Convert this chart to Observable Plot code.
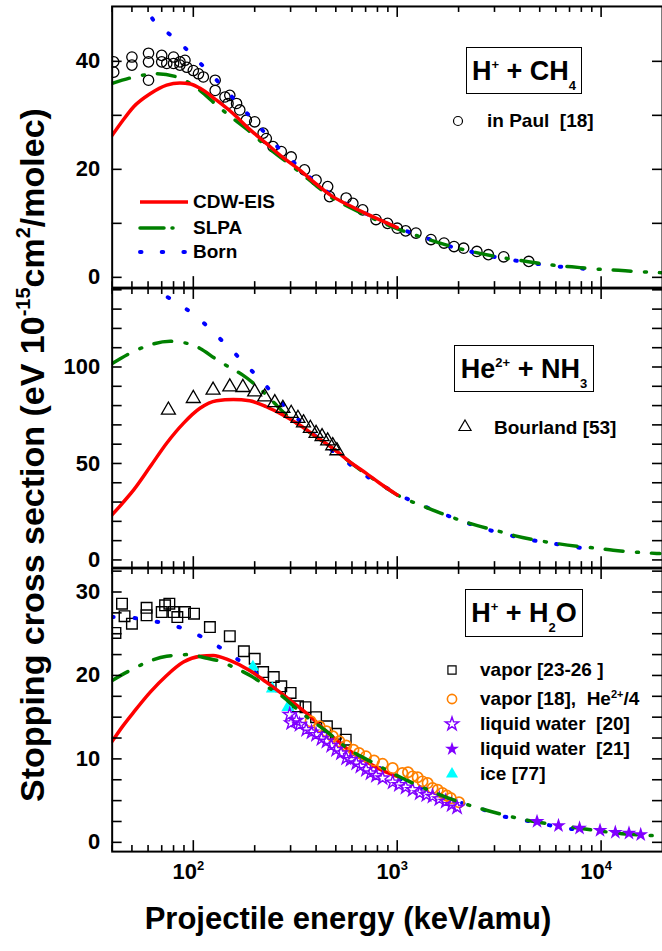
<!DOCTYPE html>
<html><head><meta charset="utf-8">
<script src="https://cdn.jsdelivr.net/npm/d3@7"></script>
<script src="https://cdn.jsdelivr.net/npm/@observablehq/plot@0.6"></script>
<style>
body{margin:0;background:#fff;}
#wrap{position:relative;width:662px;height:951px;overflow:hidden;font-family:"Liberation Sans",Arial,Helvetica,sans-serif;font-weight:bold;color:#000;}
.pan{position:absolute;left:0;}
.box{position:absolute;border:1.3px solid #000;box-sizing:border-box;display:flex;align-items:center;justify-content:center;font-size:27px;line-height:30px;white-space:nowrap;}
.box span{display:inline-block;}
.box sup{font-size:13px;line-height:0;vertical-align:11px;}
.box sub{font-size:13px;line-height:0;vertical-align:-10px;}
.lg{position:absolute;font-size:19px;line-height:20px;height:20px;white-space:pre;}
.lg sup{font-size:11px;line-height:0;vertical-align:7px;}
.mk{position:absolute;overflow:visible;}
</style></head><body><div id="wrap"></div>
<script>
// ---------------- DATA ----------------
// Panel 1: H+ + CH4   [energy keV/amu, stopping cross section]
const ch4CdwEis = [[40,26.3],[45,29.0],[51,31.6],[61.4,34.0],[74,35.6],[86,36.0],[97,35.8],[108,35.0],[130,32.8],[157,30.3],[189,27.4],[228,24.8],[275,22.2],[332,19.9],[400,17.3],[483,14.95],[583,13.3],[703,11.8],[850,10.4],[1000,9.2]];
const ch4Slpa = [[40,35.9],[50,37.0],[66,37.7],[83,37.1],[108,34.6],[130,31.9],[157,29.4],[189,27.0],[228,24.3],[275,21.9],[332,19.5],[400,17.0],[483,14.6],[583,13.0],[703,11.5],[850,10.1],[1018,8.9],[1300,7.5],[1700,6.1],[2300,4.8],[3000,3.9],[4400,2.9],[6000,2.2],[7180,1.95],[9000,1.6],[12170,1.3],[15500,1.05],[20000,0.85]];
const ch4Born = [[55,51.5],[63.8,47.6],[82.9,44.0],[103.9,40.3],[132.5,36.2],[163,32.5],[204,28.5],[260,24.1],[332,20.3],[400,17.5],[483,15.1],[583,13.3],[703,11.8],[900,9.9],[1122,8.5],[1432,7.1],[1828,5.7],[2334,4.7],[2979,3.8],[3800,3.1],[4852,2.5],[6180,2.0],[7890,1.67],[10000,1.3]];
const ch4Paul = [[40.7,39.9],[40.7,38.0],[50,40.8],[50,39.3],[60.3,41.5],[60.3,39.9],[60.3,36.5],[70,41.1],[70,39.9],[74.1,39.6],[80,40.8],[80,39.6],[86,39.9],[86,39.3],[91,40.2],[93,38.9],[100,38.3],[106,37.7],[112,37.1],[128,36.5],[128,34.6],[143,33.4],[148,32.2],[151,33.7],[163,32.2],[169,31.0],[182,29.1],[200,28.8],[220,26.7],[228,25.7],[246,24.2],[270,23.3],[302,22.3],[351,19.9],[400,18.0],[456,16.8],[466,14.95],[562,14.7],[606,13.7],[677,12.5],[787,10.7],[897,10.0],[1000,9.1],[1100,8.6],[1236,8.2],[1464,7.0],[1697,6.35],[1900,5.7],[2118,5.4],[2459,4.8],[2800,4.2],[3328,3.8],[4418,2.95]];

// Panel 2: He2+ + NH3
const nh3CdwEis = [[40,23.4],[45,29.5],[51,36.3],[61.5,48.4],[74,60.5],[89.4,70.8],[107.8,78.6],[130,82.5],[157,83.2],[189,82.5],[228,79.4],[275,75.1],[332,69.9],[400,63.9],[483,57.9],[583,51.0],[703,45.0],[818,39.9],[1000,33.7]];
const nh3Slpa = [[40,101.8],[55,109.6],[77,113.3],[91,112.5],[108,109.6],[128,104.4],[151,99.7],[175,95.8],[211,88.9],[246,82.0],[286,75.1],[358,67.3],[483,58.0],[606,49.5],[800,40.5],[1000,33.7],[1354,27.7],[1632,24.3],[2242,19.1],[3271,14.4],[3800,12.5],[4776,10.3],[7840,7.0],[9310,6.2],[11460,5.0],[15460,3.9],[19400,3.3]];
const nh3Born = [[50,150],[63.8,140.6],[82.3,133.6],[105,125.6],[133.5,115.2],[170,104.2],[214,93.2],[268,82.0],[340,71.1],[435,60.5],[555,51.5],[703,43.6],[910,36.7],[1166,30.8],[1464,26.4],[1900,21.7],[2420,17.7],[3052,14.5],[3870,11.9],[4960,9.6],[6300,7.9],[8000,6.2]];
const nh3Bourland = [[75.5,77.7],[100,83.7],[125,88.0],[151,89.7],[175,89.4],[200,87.1],[224,84.5],[251,81.5],[275,78.6],[302,76.0],[326,73.4],[347,71.1],[375,68.2],[400,65.6],[428,63.9],[456,61.7],[483,59.2],[506,56.6]];

// Panel 3: H+ + H2O
const h2oCdwEis = [[40,12.1],[45,13.9],[51,15.6],[61.5,18.0],[74,20.0],[89.4,21.6],[108,22.3],[125,22.4],[151,21.8],[189,20.6],[228,19.2],[286,17.4],[358,15.5],[450,13.3],[562,11.3],[703,9.7],[850,8.6],[1000,7.9]];
const h2oSlpa = [[40,19.4],[49,20.6],[57,21.4],[74,22.3],[94.5,22.5],[115,22.1],[135,21.7],[157,21.0],[196,19.8],[228,18.7],[270,17.6],[332,15.7],[450,13.3],[583,11.1],[740,9.7],[1100,7.5],[1480,6.1],[1930,5.0],[2600,4.0],[4240,2.7],[7840,1.7],[12660,1.04],[18220,0.8]];
const h2oBorn = [[40,27.0],[50.4,26.9],[64.3,26.5],[82.3,25.9],[104.6,24.9],[134,23.4],[170,21.7],[217,19.7],[278,17.4],[351,15.3],[456,13.1],[583,11.2],[750,9.5],[950,8.0],[1212,6.9],[1550,5.8],[1966,4.9],[2520,4.1],[3210,3.2],[4110,2.7],[5200,2.2],[6650,1.7],[8500,1.43]];
const h2oVapor2326 = [[41.5,25.1],[44.7,28.6],[46,27.1],[50,26.2],[59,28.1],[59,27.2],[70,27.6],[72.7,28.4],[76.3,28.6],[80,27.6],[83.5,27.0],[91,27.6],[100.8,27.4],[120.6,25.8],[151,24.7],[177,22.9],[200,22.0],[220,20.4],[248,19.8],[270,18.7],[300,17.9],[326,16.3],[355,16.2],[400,15.0],[452,13.9],[500,13.0],[559,12.3]];
const h2oVapor18 = [[376,14.5],[416,13.9],[450,13.3],[483,12.7],[520,12.1],[562,11.6],[610,11.1],[650,10.7],[703,10.3],[770,9.8],[848,9.4],[950,8.9],[1060,8.3],[1130,8.4],[1190,7.9],[1260,7.8],[1330,7.3],[1410,7.1],[1490,6.5],[1580,6.3],[1665,5.9],[1750,5.6],[1830,5.3],[2010,4.8]];
const h2oLiquid20 = [[297,15.3],[302,14.3],[320,14.6],[332,14.1],[358,13.5],[380,13.2],[400,12.9],[425,12.4],[450,12.1],[475,11.6],[502,11.1],[530,10.7],[562,10.1],[590,9.9],[630,9.5],[660,9.1],[703,8.7],[740,8.3],[787,8.0],[848,7.7],[950,7.2],[1020,6.9],[1100,6.6],[1190,6.3],[1290,5.9],[1390,5.7],[1490,5.5],[1610,5.2],[1730,4.9],[1850,4.5],[1966,4.2]];
const h2oLiquid21 = [[4850,2.5],[6180,2.0],[7840,1.7],[9880,1.43],[11740,1.2],[13700,1.1],[15640,0.92]];
const h2oIce = [[196,21.0],[244,18.4],[291,16.2]];

// Axis ticks
const xMajor = [100, 1000, 10000];
const xMinor = [40,50,60,70,80,90,200,300,400,500,600,700,800,900,2000,3000,4000,5000,6000,7000,8000,9000];
const p1Ticks = [0,10,20,30,40], p1Labels = [0,20,40];
const p2Ticks = [0,10,20,30,40,50,60,70,80,90,100,110,120,130,140], p2Labels = [0,50,100];
const p3Ticks = [0,2.5,5,7.5,10,12.5,15,17.5,20,22.5,25,27.5,30,32.5], p3Labels = [0,10,20,30];

// ---------------- STYLES ----------------
const RED = "#ff0000", GREEN = "#008000", BLUE = "#0000ff";
const lineRed = {stroke: RED, strokeWidth: 3.5, curve: "monotone-x", clip: true};
const lineGreen = {stroke: GREEN, strokeWidth: 3.5, strokeDasharray: "18,13.5,2,13", strokeLinecap: "round", curve: "monotone-x", clip: true};
const lineBlue = {stroke: BLUE, strokeWidth: 4, strokeDasharray: "1.5,21", strokeLinecap: "round", curve: "monotone-x", clip: true};
const XY = {x: d => d[0], y: d => d[1]};

const W = 664, ML = 112, MR = 0, FW = W - ML - MR;
function panel({innerH, yDomain, yTicks, yLabels, marks, xLabels = false}) {
  const mt = 10, mb = xLabels ? 50 : 10;
  const svg = Plot.plot({
    width: W, height: innerH + mt + mb,
    marginLeft: ML, marginRight: MR, marginTop: mt, marginBottom: mb,
    style: {background: "transparent", overflow: "visible", fontFamily: "'Liberation Sans', Arial, sans-serif"},
    x: {type: "log", domain: [40, 20000], axis: null},
    y: {domain: yDomain, axis: null},
    marks: [
      ...marks,
      Plot.frame({stroke: "#000", strokeWidth: 2}),
      Plot.tickY(yTicks, {y: d => d, insetRight: FW - 10, strokeWidth: 1.6}),
      Plot.tickY(yTicks, {y: d => d, insetLeft: FW - 10, strokeWidth: 1.6}),
      Plot.tickX(xMinor, {x: d => d, insetBottom: innerH - 6, strokeWidth: 1.6}),
      Plot.tickX(xMinor, {x: d => d, insetTop: innerH - 6, strokeWidth: 1.6}),
      Plot.tickX(xMajor, {x: d => d, insetBottom: innerH - 11, strokeWidth: 1.6}),
      Plot.tickX(xMajor, {x: d => d, insetTop: innerH - 11, strokeWidth: 1.6}),
      Plot.text(yLabels, {y: d => d, frameAnchor: "left", dx: -12, textAnchor: "end", text: d => String(d), fontSize: 22, fontWeight: "bold", fill: "#000"}),
      xLabels ? Plot.text(xMajor, {x: d => d, frameAnchor: "bottom", dy: 27, dx: -5, text: d => "10^" + Math.round(Math.log10(d)), fontSize: 22, fontWeight: "bold", fill: "#000"}) : null
    ]
  });
  svg.querySelectorAll("text").forEach(t => {
    const m = /^10\^(\d+)$/.exec(t.textContent);
    if (m) {
      t.textContent = "10";
      const ts = document.createElementNS("http://www.w3.org/2000/svg", "tspan");
      ts.setAttribute("dy", "-9"); ts.setAttribute("font-size", "13"); ts.textContent = m[1];
      t.appendChild(ts);
    }
  });
  return svg;
}

const wrap = document.getElementById("wrap");
function place(svg, top) { svg.classList.add("pan"); svg.style.position = "absolute"; svg.style.top = top + "px"; svg.style.left = "0px"; wrap.appendChild(svg); }

place(panel({innerH: 282, yDomain: [-1.9, 50.16], yTicks: p1Ticks, yLabels: p1Labels, marks: [
  Plot.dot(ch4Paul, {...XY, r: 5.2, stroke: "#000", strokeWidth: 1.3, fill: "none", clip: true}),
  Plot.line(ch4Born, {...XY, ...lineBlue}),
  Plot.line(ch4Slpa, {...XY, ...lineGreen}),
  Plot.line(ch4CdwEis, {...XY, ...lineRed})
]}), -4);

place(panel({innerH: 280, yDomain: [-3.98, 140.7], yTicks: p2Ticks, yLabels: p2Labels, marks: [
  Plot.line(nh3Born, {...XY, ...lineBlue}),
  Plot.line(nh3Slpa, {...XY, ...lineGreen}),
  Plot.line(nh3CdwEis, {...XY, ...lineRed}),
  Plot.dot(nh3Bourland, {...XY, symbol: "triangle", r: 5.2, stroke: "#000", strokeWidth: 1.3, fill: "none", clip: true})
]}), 278);

place(panel({innerH: 284, yDomain: [-1.11, 32.82], yTicks: p3Ticks, yLabels: p3Labels, xLabels: true, marks: [
  Plot.dot(h2oVapor2326, {...XY, symbol: "square", r: 6, stroke: "#000", strokeWidth: 1.4, fill: "none", clip: true}),
  Plot.dot(h2oIce, {...XY, symbol: "triangle", r: 4.8, fill: "#00ffff", stroke: "none", clip: true}),
  Plot.line(h2oBorn, {...XY, ...lineBlue}),
  Plot.line(h2oCdwEis, {...XY, ...lineRed}),
  Plot.dot(h2oVapor18, {...XY, r: 5.2, stroke: "#ff8000", strokeWidth: 1.7, fill: "none", clip: true}),
  Plot.dot(h2oLiquid20, {...XY, symbol: "star", r: 4.1, stroke: "#8000ff", strokeWidth: 1.4, fill: "none", clip: true}),
  Plot.line(h2oSlpa, {...XY, ...lineGreen}),
  Plot.dot(h2oLiquid21, {...XY, symbol: "star", r: 4.7, fill: "#8000ff", stroke: "none", clip: true})
]}), 558);

// ---------------- ANNOTATIONS / LEGENDS ----------------
function addHTML(html) { const d = document.createElement("div"); d.innerHTML = html; while (d.firstChild) wrap.appendChild(d.firstChild); }
function marker(cx, cy, sym, r, stroke, fill, sw) {
  const size = Math.PI * r * r;
  const path = d3.symbol(sym, size)();
  const s = 30;
  addHTML(`<svg class="mk" width="${s}" height="${s}" style="left:${cx - s/2}px;top:${cy - s/2}px"><path transform="translate(${s/2},${s/2})" d="${path}" fill="${fill}" stroke="${stroke}" stroke-width="${sw}"/></svg>`);
}
function lineSample(x1, x2, y, st) {
  addHTML(`<svg class="mk" width="${x2 - x1 + 10}" height="12" style="left:${x1 - 5}px;top:${y - 6}px"><line x1="5" x2="${x2 - x1 + 5}" y1="6" y2="6" stroke="${st.stroke}" stroke-width="${st.strokeWidth}" ${st.strokeDasharray ? `stroke-dasharray="${st.strokeDasharray}"` : ""} ${st.strokeLinecap ? `stroke-linecap="${st.strokeLinecap}"` : ""}/></svg>`);
}
function lgText(x, y, html) { addHTML(`<div class="lg" style="left:${x}px;top:${y - 10}px">${html}</div>`); }

// panel 1 legend
lineSample(140, 188, 202, lineRed); lgText(193, 202, "CDW-EIS");
lineSample(140, 188, 228, {...lineGreen, strokeDasharray: "24,8,1,20"}); lgText(193, 228, "SLPA");
lineSample(140, 188, 252, {...lineBlue, strokeDasharray: "1.5,20.2"}); lgText(193, 252, "Born");
addHTML(`<div class="box" style="left:466px;top:47px;width:116px;height:47px"><span>H<sup>+</sup>&nbsp;+ CH<sub>4</sub></span></div>`);
marker(458, 121, d3.symbolCircle, 4.5, "#000", "none", 1.2); lgText(487, 121, "in Paul  [18]");

// panel 2
addHTML(`<div class="box" style="left:454px;top:345px;width:140px;height:47px"><span>He<sup>2+</sup>&nbsp;+ NH<sub>3</sub></span></div>`);
marker(465, 427, d3.symbolTriangle, 4.5, "#000", "none", 1.2); lgText(494, 428, "Bourland [53]");

// panel 3
addHTML(`<div class="box" style="left:465px;top:589px;width:118px;height:48px"><span>H<sup>+</sup>&nbsp;+ H<sub>2</sub>O</span></div>`);
marker(452, 670, d3.symbolSquare, 4.6, "#000", "none", 1.2); lgText(480, 670, "vapor [23-26 ]");
marker(452, 699, d3.symbolCircle, 4.6, "#ff8000", "none", 1.6); lgText(480, 699, "vapor [18],  He<sup>2+</sup>/4");
marker(452, 724, d3.symbolStar, 4.2, "#8000ff", "none", 1.4); lgText(480, 724, "liquid water  [20]");
marker(452, 749, d3.symbolStar, 4.4, "none", "#8000ff", 0); lgText(480, 749, "liquid water  [21]");
marker(452, 774, d3.symbolTriangle, 4.5, "none", "#00ffff", 0); lgText(480, 774, "ice [77]");

// axis titles
addHTML(`<div style="position:absolute;left:348px;top:903px;transform:translateX(-50%);font-size:31px;line-height:31px;white-space:nowrap">Projectile energy (keV/amu)</div>`);
addHTML(`<div style="position:absolute;left:32px;top:455px;transform:translate(-50%,-50%) rotate(-90deg);font-size:34px;line-height:34px;white-space:nowrap">Stopping cross section (eV 10<sup style="font-size:20px;line-height:0;vertical-align:14px">-15</sup>cm<sup style="font-size:20px;line-height:0;vertical-align:14px">2</sup>/molec)</div>`);
</script></body></html>
